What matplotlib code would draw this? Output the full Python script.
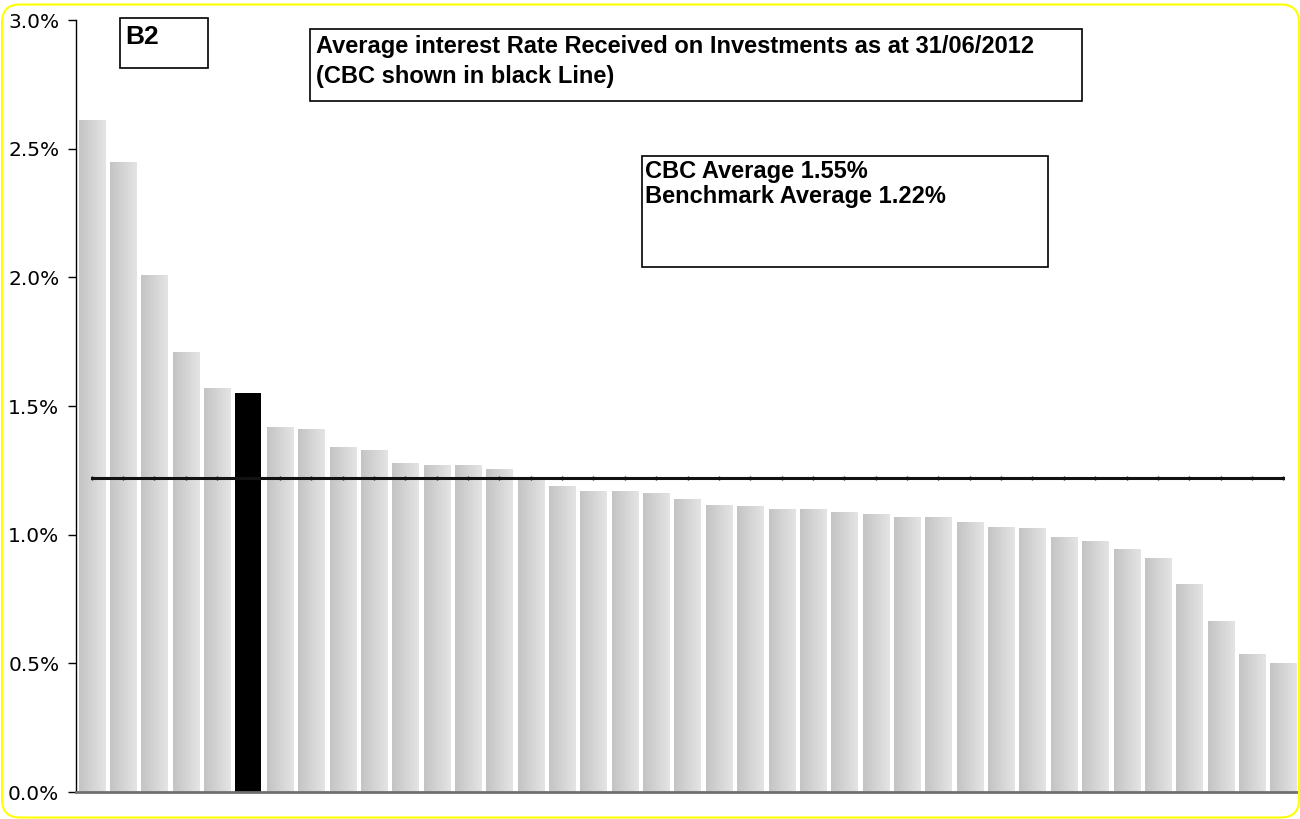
import numpy as np
import matplotlib
matplotlib.use("Agg")
import matplotlib.pyplot as plt
from matplotlib.patches import FancyBboxPatch, Rectangle
from matplotlib.ticker import FuncFormatter

# average interest rate received per authority (%), sorted high to low
rates = [2.61, 2.45, 2.01, 1.71, 1.57, 1.55, 1.42, 1.41, 1.34, 1.33,
         1.28, 1.27, 1.27, 1.255, 1.22, 1.19, 1.17, 1.17, 1.16, 1.14,
         1.115, 1.11, 1.10, 1.10, 1.09, 1.08, 1.07, 1.07, 1.05, 1.03,
         1.025, 0.99, 0.975, 0.945, 0.91, 0.81, 0.665, 0.535, 0.50]
cbc_index = 5
cbc_average = 1.55
benchmark_average = 1.22
y_ticks = [0.0, 0.5, 1.0, 1.5, 2.0, 2.5, 3.0]

title_lines = ["Average interest Rate Received on Investments as at 31/06/2012",
               "(CBC shown in black Line)"]
stats_lines = [f"CBC Average {cbc_average:.2f}%",
               f"Benchmark Average {benchmark_average:.2f}%"]

W, H = 1300, 819
fig = plt.figure(figsize=(W / 100, H / 100), dpi=100)
ax = fig.add_axes([76 / W, 1 - 792 / H, 1223 / W, 772 / H])

x = np.arange(len(rates))
bars = ax.bar(x, rates, width=0.83, color="none", edgecolor="none", zorder=2)

# grey left-to-right shading on every bar, solid black for CBC
shade = matplotlib.colors.LinearSegmentedColormap.from_list(
    "bar", ["#c4c4c4", "#e4e4e4"])
grad = np.linspace(0, 1, 64).reshape(1, -1)
for i, b in enumerate(bars):
    if i == cbc_index:
        b.set_facecolor("black")
        continue
    x0, w, h = b.get_x(), b.get_width(), b.get_height()
    im = ax.imshow(grad, extent=(x0, x0 + w, 0, h), aspect="auto",
                   cmap=shade, interpolation="bilinear", zorder=2)
    im.set_clip_path(b)

# benchmark line across all categories
ax.plot(x, [benchmark_average] * len(x), color="#111111", lw=2.2,
        marker="|", ms=3, mew=1, zorder=3)

ax.set_xlim(-0.5, len(rates) - 0.5)
ax.set_ylim(0, 3.0)
ax.set_yticks(y_ticks)
ax.yaxis.set_major_formatter(FuncFormatter(lambda v, p: f"{v:.1f}%"))
ax.set_xticks([])
ax.tick_params(axis="y", direction="out", length=6, width=1, labelsize=14.5,
               pad=6, colors="black")
for s in ("top", "right"):
    ax.spines[s].set_visible(False)
ax.spines["left"].set_linewidth(1)
ax.spines["bottom"].set_color("#707070")
ax.spines["bottom"].set_linewidth(2)
ax.set_facecolor("none")


def fig_box(x0, y0, x1, y1):
    fig.patches.append(Rectangle((x0 / W, 1 - y1 / H), (x1 - x0) / W,
                                 (y1 - y0) / H, transform=fig.transFigure,
                                 facecolor="white", edgecolor="black",
                                 lw=1.2, zorder=5))


def fig_line(px, baseline, text, size):
    fig.text(px / W, 1 - baseline / H, text, fontsize=size,
             family=["Liberation Sans", "DejaVu Sans"], weight="bold",
             color="black", ha="left", va="baseline", zorder=6)


fig_box(120, 18, 208, 68)
fig_line(125, 44, "B2", 19)

fig_box(310, 29, 1082, 101)
fig_line(316, 53.5, title_lines[0], 17)
fig_line(316, 83, title_lines[1], 17)

fig_box(642, 156, 1048, 267)
fig_line(645, 178, stats_lines[0], 17)
fig_line(645, 202.5, stats_lines[1], 17)

# rounded yellow frame around the whole chart
r = 18 / W
fig.patches.append(FancyBboxPatch((2 / W, 1.5 / H), 1297 / W, 813 / H,
                                  boxstyle=f"round,pad=0,rounding_size={r}",
                                  transform=fig.transFigure, facecolor="none",
                                  edgecolor="#ffff00", lw=1.5, zorder=10,
                                  mutation_aspect=W / H))

fig.savefig("out.png", dpi=100, facecolor="white")
